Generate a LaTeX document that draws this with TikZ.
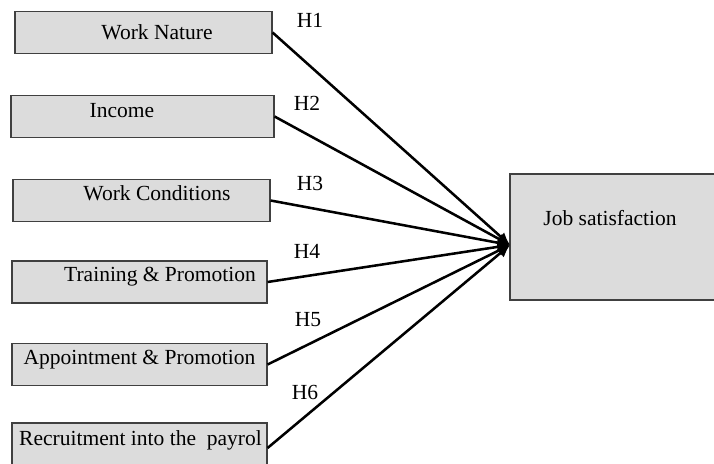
\documentclass[tikz,border=0pt]{standalone}
\usepackage{fontspec}
\setmainfont{Liberation Serif}
\usepackage{tikz}
\usepackage{xcolor}
\usetikzlibrary{arrows.meta}

\begin{document}
\begin{tikzpicture}[x=0.025cm,y=-0.025cm,font=\fontsize{15.3}{18}\selectfont,
  factor/.style={draw=black!75,line width=0.8pt,fill=boxgray,minimum height=1.05cm,inner sep=0pt},
  link/.style={line width=1.8pt,-{Latex[length=9pt,width=8pt]}}]
\definecolor{boxgray}{HTML}{DCDCDC}
\useasboundingbox (0,0) rectangle (714,464);
  \foreach \n/\cx/\cy/\w/\h/\dx/\dy/\txt in {1/143.5/32.5/257/42/13.5/0/Work Nature,
    2/142.5/116.5/263/42/-20.5/5.5/Income,
    3/141.5/200.5/257/42/15.5/7/Work Conditions,
    4/139.5/282/255/42/20.5/5/Training \& Promotion,
    5/139.5/364.5/255/42/0/5/Appointment \& Promotion,
    6/139.5/448/255/50/1/8/Recruitment into the\ \ payrol}
  {  \node [factor,minimum width=\w*0.025cm,minimum height=\h*0.025cm,label={[xshift=\dx*0.025cm,yshift=\dy*0.025cm]center:\txt}] (b\n) at (\cx,\cy) {};}
\node [factor,minimum width=214*0.025cm,minimum height=126*0.025cm,label={[xshift=-7*0.025cm,yshift=19*0.025cm]center:Job satisfaction}] (job) at (617,237) {};
\coordinate (hub) at (510,245);
  \foreach \i/\hx/\hy in {1/310/20,2/307/103,3/310/183,4/307/251,5/308/320,6/305/392}
  {  \draw [link] (b\i.east) -- (hub);
     \node (h\i) at (\hx,\hy) {H\i};}
\end{tikzpicture}
\end{document}
